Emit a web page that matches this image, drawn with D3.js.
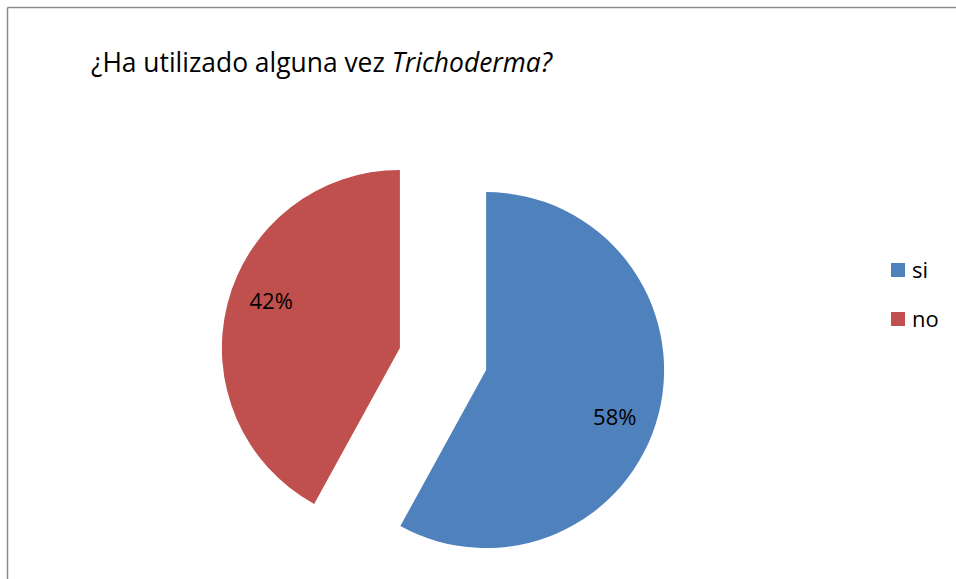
<!DOCTYPE html>
<html>
<head>
<meta charset="utf-8">
<script src="https://cdn.jsdelivr.net/npm/d3@7"></script>
<style>
  body { margin:0; background:#fff; }
  svg { display:block; font-family: "Open Sans", Lato, sans-serif; }
</style>
</head>
<body>
<div class="canvas"></div>
<script>
var categories = ['si', 'no'];
var values = [58, 42];
var colors = ['#4f81bd', '#c0504d'];

var width = 956, height = 579;

var svg = d3.select('.canvas')
    .append('svg')
    .attr('width', width)
    .attr('height', height);

// frame (only top and left edges visible in the crop)
svg.append('line').attr('x1',7.5).attr('y1',7.5).attr('x2',width).attr('y2',7.5)
    .style('stroke','#8c8c8c').style('stroke-width',1.5);
svg.append('line').attr('x1',7.5).attr('y1',7.5).attr('x2',7.5).attr('y2',height)
    .style('stroke','#8c8c8c').style('stroke-width',1.5);

// title
var title = svg.append('text')
    .attr('x', 91)
    .attr('y', 72)
    .style('font-size','26.4px')
    .style('fill','#000');
title.append('tspan').text('¿Ha utilizado alguna vez ');
title.append('tspan').style('font-style','italic').text('Trichoderma?');

var cx = 443, cy = 359, r = 178, explode = 44.5;

var pie = d3.pie().sort(null).value(function(d){ return d; });
var arc = d3.arc().innerRadius(0).outerRadius(r);

var g = svg.append('g').attr('transform','translate('+cx+','+cy+')');

var slices = g.selectAll('g.slice')
    .data(pie(values))
    .enter().append('g')
    .attr('class','slice')
    .attr('transform', function(d){
        var a = (d.startAngle + d.endAngle)/2;
        return 'translate('+ (Math.sin(a)*explode) +','+ (-Math.cos(a)*explode) +')';
    });

slices.append('path')
    .attr('d', arc)
    .style('fill', function(d,i){ return colors[i]; });

// labels sit a little past the mid angle, like the original
slices.append('text')
    .attr('transform', function(d){
        var a = (d.startAngle + d.endAngle)/2 + 0.1, lr = r*0.77;
        return 'translate('+ (Math.sin(a)*lr) +','+ (-Math.cos(a)*lr) +')';
    })
    .attr('text-anchor','middle')
    .attr('dy','0.36em')
    .style('font-size','22px')
    .text(function(d){ return d.value + '%'; });

// legend
var legend = svg.selectAll('g.legend')
    .data(categories)
    .enter().append('g')
    .attr('class','legend')
    .attr('transform', function(d,i){ return 'translate(891,'+ (263 + i*49) +')'; });

legend.append('rect')
    .attr('width',14).attr('height',14)
    .style('fill', function(d,i){ return colors[i]; });

legend.append('text')
    .attr('x',21).attr('y',15)
    .style('font-size','22px')
    .text(function(d){ return d; });
</script>
</body>
</html>
